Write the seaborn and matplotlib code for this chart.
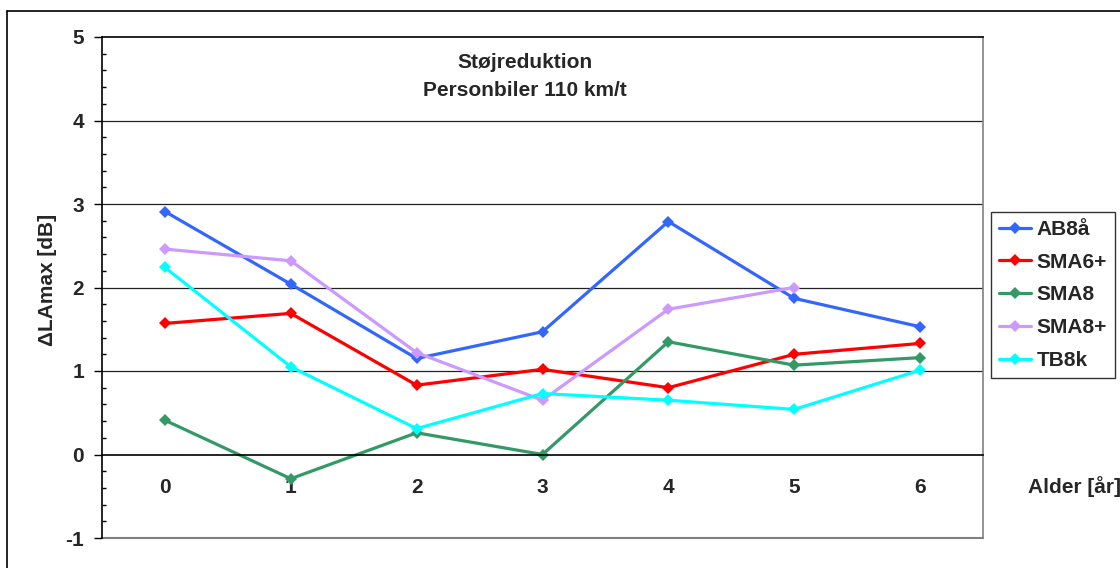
import numpy as np
import pandas as pd
import matplotlib
matplotlib.use("Agg")
import matplotlib.pyplot as plt
from matplotlib.lines import Line2D
import seaborn as sns

# data
alder = [0, 1, 2, 3, 4, 5, 6]
ab8aa = [2.91, 2.04, 1.15, 1.47, 2.79, 1.87, 1.53]
sma6p = [1.57, 1.69, 0.83, 1.02, 0.80, 1.20, 1.33]
sma8 = [0.41, -0.29, 0.26, 0.00, 1.35, 1.07, 1.16]
sma8p = [2.46, 2.32, 1.22, 0.65, 1.74, 2.00]  # no value at 6
tb8k = [2.24, 1.05, 0.31, 0.73, 0.65, 0.54, 1.01]

series = ["AB8å", "SMA6+", "SMA8", "SMA8+", "TB8k"]
farver = ["#3366FF", "#FF0000", "#339966", "#CC99FF", "#00FFFF"]

rows = []
for navn, vals in zip(series, [ab8aa, sma6p, sma8, sma8p, tb8k]):
    for a, v in zip(alder, vals):
        rows.append({"Alder": a, "dLA": v, "Belægning": navn})
df = pd.DataFrame(rows)

sns.set_style("white")
plt.rcParams["font.family"] = ["Liberation Sans", "DejaVu Sans"]
plt.rcParams["font.weight"] = "bold"
fs = 15

fig = plt.figure(figsize=(11.2, 5.68), dpi=100)
ax = fig.add_axes([102 / 1120, 1 - 538 / 568, 881 / 1120, 501 / 568])

sns.lineplot(data=df, x="Alder", y="dLA", hue="Belægning", palette=farver,
             hue_order=series, marker="D", markersize=6.5, markeredgewidth=0,
             linewidth=2.3, estimator=None, sort=False, legend=False, ax=ax)

ax.set_xlim(-0.5, 6.5)
ax.set_ylim(-1, 5)

# gridlines
for g in [1, 2, 3, 4]:
    ax.axhline(g, color="#222222", lw=0.9, zorder=0)
ax.axhline(-1, color="#808080", lw=1.5, clip_on=False, zorder=0)

# x axis sits at y=0 like in Excel
ax.spines["bottom"].set_position(("data", 0))
ax.spines["bottom"].set_color("black")
ax.spines["bottom"].set_linewidth(1.2)
ax.spines["left"].set_color("black")
ax.spines["left"].set_linewidth(1.2)
ax.spines["top"].set_color("black")
ax.spines["top"].set_linewidth(1.2)
ax.spines["right"].set_color("#808080")
ax.spines["right"].set_linewidth(1.2)

ax.set_xticks(alder)
ax.set_xticklabels([str(a) for a in alder])
ax.set_xticks(np.arange(0.5, 6.5, 1), minor=True)
ax.tick_params(axis="x", which="major", length=0, pad=17, labelsize=fs)
ax.tick_params(axis="x", which="minor", length=5, direction="out", width=1, color="black")

ax.set_yticks(range(-1, 6))
ax.set_yticklabels(["-1", "0", "1", "2", "3", "4", "5"])
ax.set_yticks(np.arange(-1, 5.01, 0.2), minor=True)
ax.tick_params(axis="y", which="major", length=6, direction="out", width=1,
               color="black", pad=7, labelsize=fs, left=True)
ax.tick_params(axis="y", which="minor", length=3, direction="in", width=1,
               color="black", left=True)
for t in ax.get_xticklabels() + ax.get_yticklabels():
    t.set_fontweight("bold")

ax.set_xlabel("")
ax.set_ylabel("ΔLAmax [dB]", fontsize=fs, fontweight="bold")
ax.yaxis.set_label_coords(-0.051, 0.515)

ax.text(0.48, 0.950, "Støjreduktion", transform=ax.transAxes, ha="center",
        va="center", fontsize=fs, fontweight="bold")
ax.text(0.48, 0.894, "Personbiler 110 km/t", transform=ax.transAxes, ha="center",
        va="center", fontsize=fs, fontweight="bold")

fig.text(1075 / 1120, 1 - 487 / 568, "Alder [år]", ha="center", va="center",
         fontsize=fs, fontweight="bold")

handles = [Line2D([0], [0], color=c, lw=2.3, marker="D", markersize=6.5,
                  markeredgewidth=0) for c in farver]
leg = fig.legend(handles, series, loc="upper left",
                 bbox_to_anchor=(991 / 1120, 1 - 212 / 568),
                 frameon=True, fancybox=False, edgecolor="black",
                 prop={"size": fs, "weight": "bold"},
                 handlelength=1.55, handletextpad=0.25, labelspacing=0.66,
                 borderpad=0.38, borderaxespad=0)
leg.get_frame().set_linewidth(1.0)

# outer chart border
fig.add_artist(Line2D([7 / 1120, 7 / 1120], [0, 1 - 11 / 568], color="black", lw=1.2))
fig.add_artist(Line2D([7 / 1120, 1], [1 - 11 / 568, 1 - 11 / 568], color="black", lw=1.2))

fig.savefig("out.png", dpi=100)
